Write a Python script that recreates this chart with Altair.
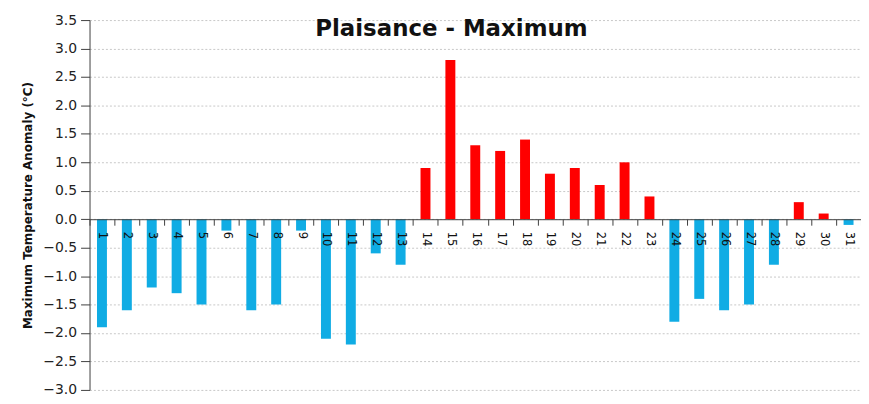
import altair as alt
import pandas as pd

days = list(range(1, 32))
anomaly = [-1.9, -1.6, -1.2, -1.3, -1.5, -0.2, -1.6, -1.5, -0.2, -2.1, -2.2, -0.6, -0.8,
           0.9, 2.8, 1.3, 1.2, 1.4, 0.8, 0.9, 0.6, 1.0, 0.4,
           -1.8, -1.4, -1.6, -1.5, -0.8, 0.3, 0.1, -0.1]
y_ticks = [-3.0, -2.5, -2.0, -1.5, -1.0, -0.5, 0.0, 0.5, 1.0, 1.5, 2.0, 2.5, 3.0, 3.5]
y_min, y_max = -3.0, 3.5

df = pd.DataFrame({"day": days, "anomaly": anomaly})
df["sign"] = ["pos" if v >= 0 else "neg" for v in df["anomaly"]]

W, H = 776, 372
zero_offset = -H * (0 - y_min) / (y_max - y_min)

chart = alt.Chart(df).mark_bar(size=10).encode(
    x=alt.X("day:O",
            scale=alt.Scale(paddingInner=0, paddingOuter=0),
            axis=alt.Axis(title=None, orient="bottom", offset=zero_offset,
                          labelAngle=90, labelAlign="left", labelBaseline="middle",
                          tickBand="extent", tickSize=6, labelPadding=6,
                          domainColor="#404040", tickColor="#404040",
                          labelColor="#111111", labelFont="DejaVu Sans",
                          labelFontSize=11.5, zindex=1, grid=False)),
    y=alt.Y("anomaly:Q",
            scale=alt.Scale(domain=[y_min, y_max], nice=False, zero=False),
            axis=alt.Axis(values=y_ticks, format=".1f",
                          title="Maximum Temperature Anomaly (°C)",
                          titleFont="DejaVu Sans", titleFontSize=12, titleFontWeight="bold",
                          titleColor="#111111", titlePadding=8,
                          labelFont="DejaVu Sans", labelFontSize=14, labelColor="#222222",
                          labelPadding=4, tickSize=9, tickColor="#404040",
                          domainColor="#404040",
                          grid=True, gridColor="#c8c8c8", gridDash=[2, 2])),
    color=alt.Color("sign:N",
                    scale=alt.Scale(domain=["pos", "neg"], range=["#FF0000", "#10ACE4"]),
                    legend=None),
).properties(
    width=W, height=H,
    title=alt.TitleParams("Plaisance - Maximum", font="DejaVu Sans", fontSize=23,
                          fontWeight="bold", color="#111111", anchor="middle",
                          frame="group", baseline="alphabetic", offset=0, dy=46, dx=-24),
    autosize=alt.AutoSizeParams(type="none"),
    padding={"left": 82, "top": 11, "right": 0, "bottom": 10},
).configure_view(stroke=None)

chart.save("out.html", embed_options={"renderer": "svg", "actions": False})
